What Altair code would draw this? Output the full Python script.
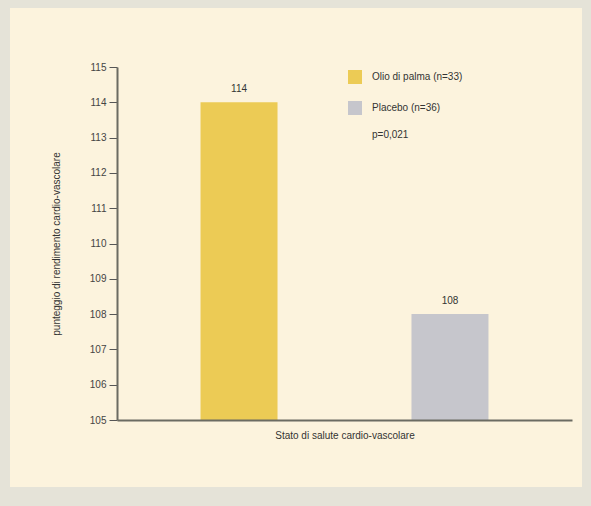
import altair as alt
import pandas as pd

groups = ["Olio di palma (n=33)", "Placebo (n=36)"]
values = [114, 108]
value_labels = ["114", "108"]
bar_colors = ["#eccb55", "#c6c6cc"]
y_ticks = [105, 106, 107, 108, 109, 110, 111, 112, 113, 114, 115]
p_text = "p=0,021"
x_title = "Stato di salute cardio-vascolare"
y_title = "punteggio di rendimento cardio-vascolare"

df = pd.DataFrame({"group": groups, "value": values, "label": value_labels})

FONT = "Liberation Sans"
W, H = 455, 353
TOP, LEFT = 67, 117

x = alt.X("group:N", sort=groups,
          scale=alt.Scale(paddingInner=0.635, paddingOuter=0.396),
          axis=alt.Axis(title=x_title, labels=False, ticks=False, domain=True,
                        domainColor="#6b6b62", domainWidth=2, titleFont=FONT,
                        titleFontSize=10, titleFontWeight="normal", titleColor="#333",
                        titlePadding=10, zindex=2))
y = alt.Y("value:Q", scale=alt.Scale(domain=[105, 115], zero=False, nice=False),
          axis=alt.Axis(title=y_title, values=y_ticks, tickCount=20, format="d",
                        grid=False, tickSize=8,
                        tickColor="#555", domainColor="#6b6b62", domainWidth=2,
                        labelFont=FONT, labelFontSize=10, labelColor="#444",
                        labelOverlap=False,
                        titleFont=FONT, titleFontSize=10, titleFontWeight="normal",
                        titleColor="#333", titlePadding=28, labelPadding=3, zindex=2))

panel = alt.Chart(df).mark_rect(color="#fcf3dd").encode(
    x=alt.value(10 - LEFT), x2=alt.value(582 - LEFT),
    y=alt.value(8 - TOP), y2=alt.value(487 - TOP)
)

bars = alt.Chart(df).mark_bar(clip=True).encode(
    x=x, y=y, y2=alt.datum(105),
    color=alt.Color("group:N", sort=groups,
                    scale=alt.Scale(domain=groups, range=bar_colors),
                    legend=alt.Legend(title=None, orient="none", legendX=348 - LEFT,
                                      legendY=70 - TOP,
                                      symbolType="square", symbolSize=196,
                                      symbolStrokeWidth=0, rowPadding=17,
                                      labelFont=FONT, labelFontSize=10,
                                      labelColor="#333", labelOffset=10))
)

labels = alt.Chart(df).mark_text(baseline="bottom", dy=-8, font=FONT, fontSize=10,
                                 color="#333").encode(
    x=x, y=y, text="label:N"
)

ptxt = alt.Chart(pd.DataFrame({"t": [p_text]})).mark_text(
    align="left", baseline="middle", font=FONT, fontSize=10, color="#333"
).encode(x=alt.value(372 - LEFT), y=alt.value(135 - TOP), text="t:N")

chart = alt.layer(panel, bars, labels, ptxt).properties(
    width=W, height=H,
    background="#e5e3d8",
    padding={"left": LEFT, "top": TOP, "right": 19, "bottom": 86},
    autosize=alt.AutoSizeParams(type="none"),
).configure_view(stroke=None)

chart.save("out.html", embed_options={"renderer": "svg", "actions": False})
